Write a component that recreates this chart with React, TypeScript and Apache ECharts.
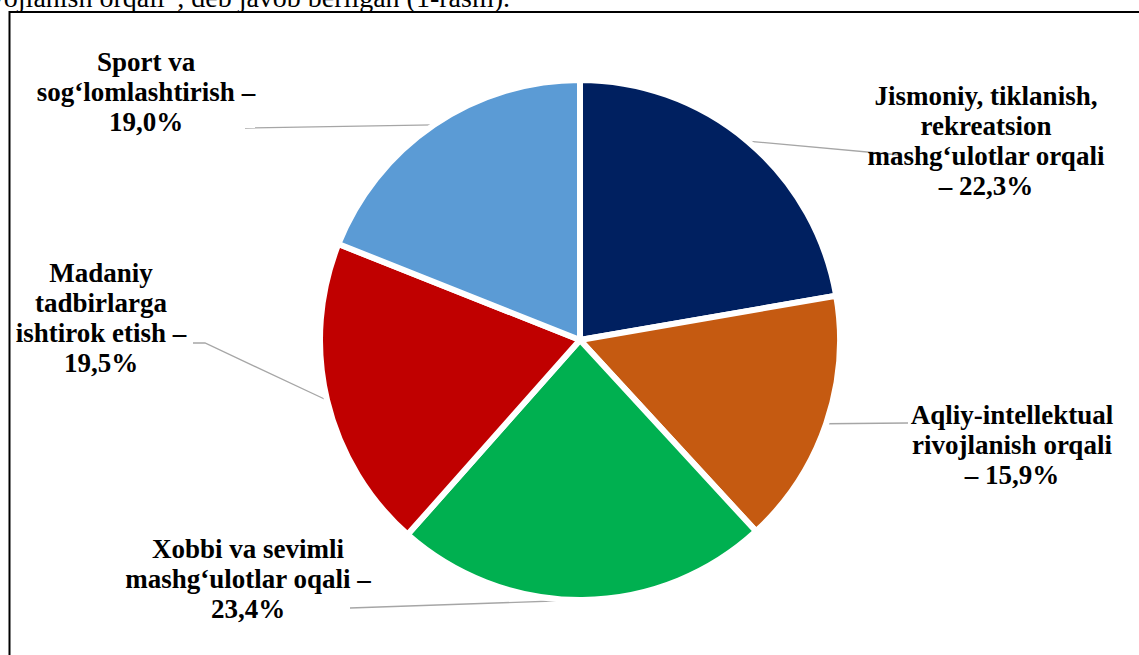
import React, { useEffect, useRef } from "react";
import * as echarts from "echarts";

const categories = [
  "Jismoniy, tiklanish,\nrekreatsion\nmashg‘ulotlar orqali\n– ",
  "Aqliy-intellektual\nrivojlanish orqali\n– ",
  "Xobbi va sevimli\nmashg‘ulotlar oqali –\n",
  "Madaniy\ntadbirlarga\nishtirok etish –\n",
  "Sport va\nsog‘lomlashtirish –\n",
];
const values = [22.3, 15.9, 23.4, 19.5, 19.0];
const colors = ["#002060", "#C55A11", "#00B050", "#C00000", "#5B9BD5"];
const captionText = "rivojlanish orqali”, deb javob berilgan (1-rasm).";

// label anchor positions (layout only)
const labelPos: [number, number][] = [
  [986, 141],
  [1012, 445],
  [248, 579],
  [101, 318],
  [146, 92],
];
// leader-line end offsets relative to the label anchor (layout only)
const leaderEnds: [number, number][][] = [
  [[-86, 14]],
  [[-104, -22]],
  [[102, 29]],
  [[104, 25], [92, 25]],
  [[99, 36]],
];

export default function App() {
  const ref = useRef<HTMLDivElement>(null);
  useEffect(() => {
    if (!ref.current) return;
    const chart = echarts.init(ref.current, null, { renderer: "svg" });
    const fam = "Liberation Serif";
    chart.setOption({
      animation: false,
      backgroundColor: "#ffffff",
      textStyle: { fontFamily: fam },
      graphic: [
        {
          type: "rect",
          shape: { x: 9.5, y: 12, width: 1200, height: 700 },
          style: { fill: "none", stroke: "#000000", lineWidth: 2 },
          z: 0,
        },
        {
          type: "text",
          x: 510,
          y: -2.5,
          style: {
            text: captionText,
            align: "right",
            verticalAlign: "middle",
            fontFamily: fam,
            fontSize: 28,
            fill: "#000000",
          },
        },
      ],
      series: [
        {
          type: "pie",
          center: [580, 340],
          radius: 260,
          startAngle: 90,
          clockwise: true,
          data: categories.map((name, i) => ({
            name,
            value: values[i],
            itemStyle: { color: colors[i] },
          })),
          itemStyle: { borderColor: "#ffffff", borderWidth: 6 },
          label: {
            show: true,
            position: "outside",
            formatter: (p: any) =>
              p.name + p.value.toFixed(1).replace(".", ",") + "%",
            fontFamily: fam,
            fontWeight: "bold",
            fontSize: 27,
            lineHeight: 30,
            color: "#000000",
            align: "center",
          },
          labelLine: {
            show: true,
            length: 10,
            length2: 10,
            lineStyle: { color: "#A6A6A6", width: 1.3 },
          },
          labelLayout: (params: any) => {
            const i = params.dataIndex;
            const p = labelPos[i];
            const out: any = {
              x: p[0],
              y: p[1],
              align: "center",
              verticalAlign: "middle",
            };
            const pts = params.labelLinePoints;
            if (pts && pts.length) {
              const start = pts[0];
              const rest = leaderEnds[i].map((o) => [p[0] + o[0], p[1] + o[1]]);
              const all = [start, ...rest];
              while (all.length < 3) all.push(all[all.length - 1]);
              out.labelLinePoints = all;
            }
            return out;
          },
          emphasis: { disabled: true },
        },
      ],
    });
    return () => chart.dispose();
  }, []);
  return (
    <div
      ref={ref}
      style={{ position: "fixed", left: 0, top: 0, width: 1139, height: 655 }}
    />
  );
}
